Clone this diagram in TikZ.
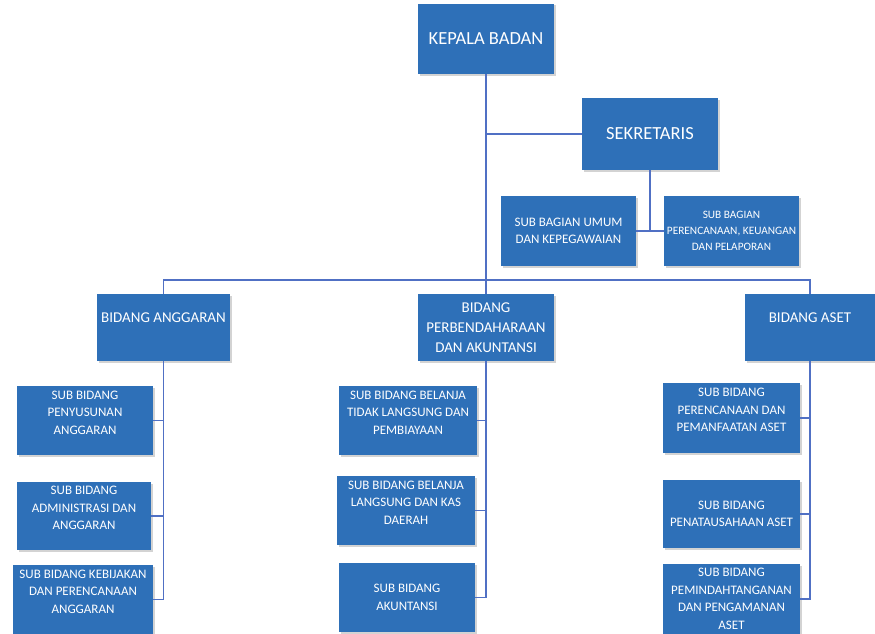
\documentclass[tikz,border=0pt]{standalone}
\usepackage{fontspec}
\setmainfont{Carlito}
\usepackage{xcolor}
\usetikzlibrary{shadows}

\definecolor{boxblue}{RGB}{46,112,184}
\definecolor{lineblue}{RGB}{80,112,196}

\begin{document}
\begin{tikzpicture} [x=1pt, y=1pt,
    box/.style={ fill=boxblue, text=white, align=center, inner sep=2pt,
                 drop shadow={opacity=0.35, shadow xshift=1.5pt, shadow yshift=-1.5pt} },
    bigbox/.style={ box, font=\fontsize{18.5}{21}\selectfont },
    midbox/.style={ box, font=\fontsize{15}{20}\selectfont },
    subbox/.style={ box, font=\fontsize{13}{17.5}\selectfont },
    raised/.style={ text depth=16pt },
    link/.style={ draw=lineblue, line width=1.2pt } ]
    \useasboundingbox (0,0) rectangle (875,-634);

    % top level
    \node [bigbox, minimum width=136, minimum height=70] (kepala) at (486,-39) {KEPALA BADAN};
    \node [bigbox, minimum width=136, minimum height=72] (sekr) at (650,-134) {SEKRETARIS};
    \node [subbox, minimum width=135, minimum height=70] (umum) at (568.5,-231) {SUB BAGIAN UMUM\\DAN KEPEGAWAIAN};
    \node [subbox, minimum width=135, minimum height=70, font=\fontsize{11.3}{16}\selectfont] (renlap) at (731.5,-231) {SUB BAGIAN\\PERENCANAAN, KEUANGAN\\DAN PELAPORAN};

    % bidang
    \node [midbox, minimum width=133, minimum height=67] (anggaran) at (163.5,-327.5) {BIDANG ANGGARAN\\\mbox{}};
    \node [midbox, minimum width=136, minimum height=67] (perben) at (486,-327.5) {BIDANG\\PERBENDAHARAAN\\DAN AKUNTANSI};
    \node [midbox, minimum width=130, minimum height=67] (aset) at (810,-327.5) {BIDANG ASET\\\mbox{}};

    % sub bidang anggaran
    \node [subbox, raised, minimum width=136, minimum height=69] (ang1) at (85,-420.5) {SUB BIDANG\\PENYUSUNAN\\ANGGARAN};
    \node [subbox, raised, minimum width=134, minimum height=68] (ang2) at (84,-516) {SUB BIDANG\\ADMINISTRASI DAN\\ANGGARAN};
    \node [subbox, raised, minimum width=140, minimum height=69] (ang3) at (83,-599.5) {SUB BIDANG KEBIJAKAN\\DAN PERENCANAAN\\ANGGARAN};

    % sub bidang perbendaharaan
    \node [subbox, raised, minimum width=138, minimum height=69] (per1) at (408,-420.5) {SUB BIDANG BELANJA\\TIDAK LANGSUNG DAN\\PEMBIAYAAN};
    \node [subbox, raised, minimum width=138, minimum height=69] (per2) at (406,-510.5) {SUB BIDANG BELANJA\\LANGSUNG DAN KAS\\DAERAH};
    \node [subbox, minimum width=136, minimum height=69] (per3) at (407,-597.5) {SUB BIDANG\\AKUNTANSI};

    % sub bidang aset
    \node [subbox, raised, minimum width=137, minimum height=70] (ast1) at (731.5,-418) {SUB BIDANG\\PERENCANAAN DAN\\PEMANFAATAN ASET};
    \node [subbox, minimum width=137, minimum height=68] (ast2) at (731.5,-514) {SUB BIDANG\\PENATAUSAHAAN ASET};
    \node [subbox, minimum width=137, minimum height=70] (ast3) at (731.5,-599) {SUB BIDANG\\PEMINDAHTANGANAN\\DAN PENGAMANAN\\ASET};

    \coordinate (bus) at (486,-280);

    % connectors
    \draw [link] (kepala.south) -- (perben.north);
    \draw [link] (sekr.west) -- (sekr.west -| kepala.south);
    \draw [link] (sekr.south) -- (sekr.south |- umum.east);
    \draw [link] (umum.east) -- (renlap.west);
    \draw [link] (anggaran.north) |- (bus) -| (aset.north);

    \foreach \sub in {ang1, ang2, ang3}
        \draw [link] (anggaran.south) |- (\sub.east);
    \foreach \sub in {per1, per2, per3}
        \draw [link] (perben.south) |- (\sub.east);
    \foreach \sub in {ast1, ast2, ast3}
        \draw [link] (aset.south) |- (\sub.east);
\end{tikzpicture}
\end{document}
